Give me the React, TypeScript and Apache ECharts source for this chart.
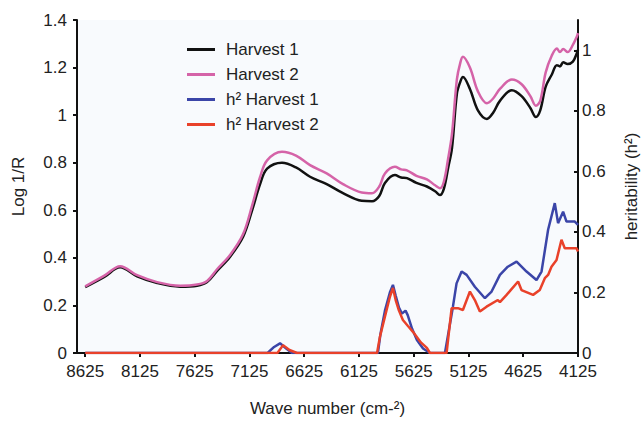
import React, { useEffect, useRef } from "react";
import * as echarts from "echarts";

// Spectra (Log 1/R) sampled at these wave numbers
const spectraWave = [8625, 8450, 8306, 8151, 7968, 7758, 7603, 7512, 7421, 7302, 7183, 7101, 7028, 6964, 6828, 6700, 6572, 6420, 6271, 6100, 6006, 5940, 5888, 5797, 5740, 5687, 5600, 5505, 5430, 5386, 5350, 5310, 5276, 5231, 5200, 5176, 5112, 5039, 4957, 4900, 4838, 4729, 4640, 4560, 4510, 4470, 4420, 4365, 4318, 4290, 4260, 4220, 4172, 4136, 4125];
const harvest1 = [0.277, 0.32, 0.36, 0.322, 0.294, 0.279, 0.283, 0.298, 0.345, 0.405, 0.489, 0.6, 0.71, 0.775, 0.8, 0.78, 0.741, 0.71, 0.672, 0.64, 0.638, 0.66, 0.715, 0.748, 0.738, 0.735, 0.715, 0.7, 0.68, 0.664, 0.69, 0.78, 0.86, 1.09, 1.14, 1.16, 1.11, 1.02, 0.984, 1.01, 1.06, 1.105, 1.08, 1.03, 0.992, 1.02, 1.12, 1.17, 1.21, 1.205, 1.222, 1.215, 1.225, 1.26, 1.274];
const harvest2 = [0.28, 0.325, 0.365, 0.327, 0.298, 0.283, 0.288, 0.303, 0.352, 0.412, 0.5, 0.62, 0.74, 0.81, 0.846, 0.83, 0.79, 0.755, 0.71, 0.675, 0.672, 0.7, 0.755, 0.783, 0.772, 0.768, 0.745, 0.73, 0.705, 0.693, 0.72, 0.82, 0.92, 1.15, 1.22, 1.245, 1.2, 1.1, 1.05, 1.07, 1.11, 1.15, 1.13, 1.08, 1.04, 1.06, 1.18, 1.25, 1.28, 1.265, 1.278, 1.265, 1.295, 1.33, 1.345];

// Heritability (h²)
const h2Wave1 = [8625, 6960, 6900, 6846, 6790, 6736, 5952, 5930, 5888, 5843, 5815, 5790, 5760, 5733, 5700, 5680, 5640, 5596, 5540, 5477, 5340, 5267, 5234, 5188, 5142, 5067, 4975, 4914, 4838, 4766, 4686, 4595, 4504, 4458, 4398, 4337, 4307, 4261, 4230, 4154, 4125];
const h2Harvest1 = [0, 0, 0.02, 0.032, 0.015, 0, 0, 0.06, 0.14, 0.2, 0.225, 0.19, 0.15, 0.13, 0.14, 0.125, 0.08, 0.043, 0.015, 0, 0, 0.153, 0.23, 0.269, 0.258, 0.219, 0.181, 0.203, 0.258, 0.285, 0.302, 0.269, 0.241, 0.269, 0.407, 0.495, 0.429, 0.467, 0.434, 0.434, 0.423];
const h2Wave2 = [8625, 6870, 6818, 6760, 6691, 5960, 5934, 5888, 5843, 5815, 5790, 5760, 5724, 5680, 5632, 5560, 5505, 5477, 5325, 5279, 5222, 5176, 5112, 5067, 5021, 4960, 4857, 4838, 4777, 4672, 4641, 4535, 4474, 4428, 4398, 4367, 4321, 4276, 4246, 4139, 4125];
const h2Harvest2 = [0, 0, 0.026, 0.01, 0, 0, 0.053, 0.12, 0.185, 0.215, 0.175, 0.14, 0.109, 0.09, 0.07, 0.035, 0.017, 0, 0, 0.148, 0.148, 0.142, 0.203, 0.175, 0.137, 0.153, 0.175, 0.168, 0.192, 0.236, 0.208, 0.192, 0.208, 0.247, 0.258, 0.285, 0.307, 0.374, 0.346, 0.346, 0.335];

const xTicks = [4125, 4625, 5125, 5625, 6125, 6625, 7125, 7625, 8125, 8625];
const rightTicks = [0, 0.2, 0.4, 0.6, 0.8, 1];

const FONT = "Liberation Sans, Arial, Helvetica, sans-serif";
const TXT = "#222";

const pair = (xs: number[], ys: number[]) => xs.map((x, i) => [x, ys[i]]);

export default function App() {
  const ref = useRef<HTMLDivElement>(null);
  useEffect(() => {
    if (!ref.current) return;
    const chart = echarts.init(ref.current, undefined, { renderer: "svg" });
    const axisLine = { show: true, lineStyle: { color: "#111", width: 2 } };
    chart.setOption({
      animation: false,
      backgroundColor: "#fff",
      textStyle: { fontFamily: FONT },
      grid: {
        left: 77,
        right: 66,
        top: 20,
        bottom: 80,
        show: true,
        backgroundColor: "#f8fafd",
        borderWidth: 0,
        outerBoundsMode: "none",
      },
      legend: {
        orient: "vertical",
        left: 182,
        top: 36,
        itemWidth: 28,
        itemHeight: 3,
        itemGap: 8,
        icon: "rect",
        textStyle: { fontSize: 17, color: TXT, fontFamily: FONT, padding: [0, 0, 0, 6] },
        data: ["Harvest 1", "Harvest 2", "h² Harvest 1", "h² Harvest 2"],
      },
      xAxis: {
        type: "value",
        min: 4125,
        max: 8700,
        inverse: true,
        name: "Wave number (cm-²)",
        nameLocation: "middle",
        nameGap: 47,
        nameTextStyle: { fontSize: 17, color: TXT, fontFamily: FONT },
        axisLine,
        axisTick: { show: true, customValues: xTicks, length: 4, lineStyle: { color: "#111", width: 2 } },
        axisLabel: { customValues: xTicks, fontSize: 17, color: TXT, margin: 10, fontFamily: FONT, formatter: (v: number) => String(v) },
        splitLine: { show: false },
      },
      yAxis: [
        {
          type: "value",
          min: 0,
          max: 1.4,
          interval: 0.2,
          name: "Log 1/R",
          nameLocation: "middle",
          nameGap: 50,
          nameTextStyle: { fontSize: 17, color: TXT, fontFamily: FONT },
          axisLine,
          axisTick: { show: true, length: 4, lineStyle: { color: "#111", width: 2 } },
          axisLabel: { fontSize: 17, color: TXT, margin: 10, fontFamily: FONT },
          splitLine: { show: false },
        },
        {
          type: "value",
          min: 0,
          max: 1.1,
          position: "right",
          name: "heritability (h²)",
          nameLocation: "middle",
          nameGap: 45,
          nameTextStyle: { fontSize: 17, color: TXT, fontFamily: FONT },
          axisLine,
          axisTick: { show: true, customValues: rightTicks, length: 4, inside: true, lineStyle: { color: "#111", width: 2 } },
          axisLabel: { customValues: rightTicks, fontSize: 17, color: TXT, margin: 4, fontFamily: FONT },
          splitLine: { show: false },
        },
      ],
      series: [
        { name: "Harvest 1", type: "line", smooth: 0.35, showSymbol: false, data: pair(spectraWave, harvest1), lineStyle: { color: "#111", width: 2.5 }, itemStyle: { color: "#111" } },
        { name: "Harvest 2", type: "line", smooth: 0.35, showSymbol: false, data: pair(spectraWave, harvest2), lineStyle: { color: "#d563a8", width: 2.5 }, itemStyle: { color: "#d563a8" } },
        { name: "h² Harvest 1", type: "line", yAxisIndex: 1, showSymbol: false, data: pair(h2Wave1, h2Harvest1), lineStyle: { color: "#3b45a8", width: 2.5 }, itemStyle: { color: "#3b45a8" } },
        { name: "h² Harvest 2", type: "line", yAxisIndex: 1, showSymbol: false, data: pair(h2Wave2, h2Harvest2), lineStyle: { color: "#e9412a", width: 2.5 }, itemStyle: { color: "#e9412a" } },
      ],
    });
    return () => chart.dispose();
  }, []);
  return <div ref={ref} style={{ position: "absolute", left: 0, top: 0, width: 644, height: 433 }} />;
}
